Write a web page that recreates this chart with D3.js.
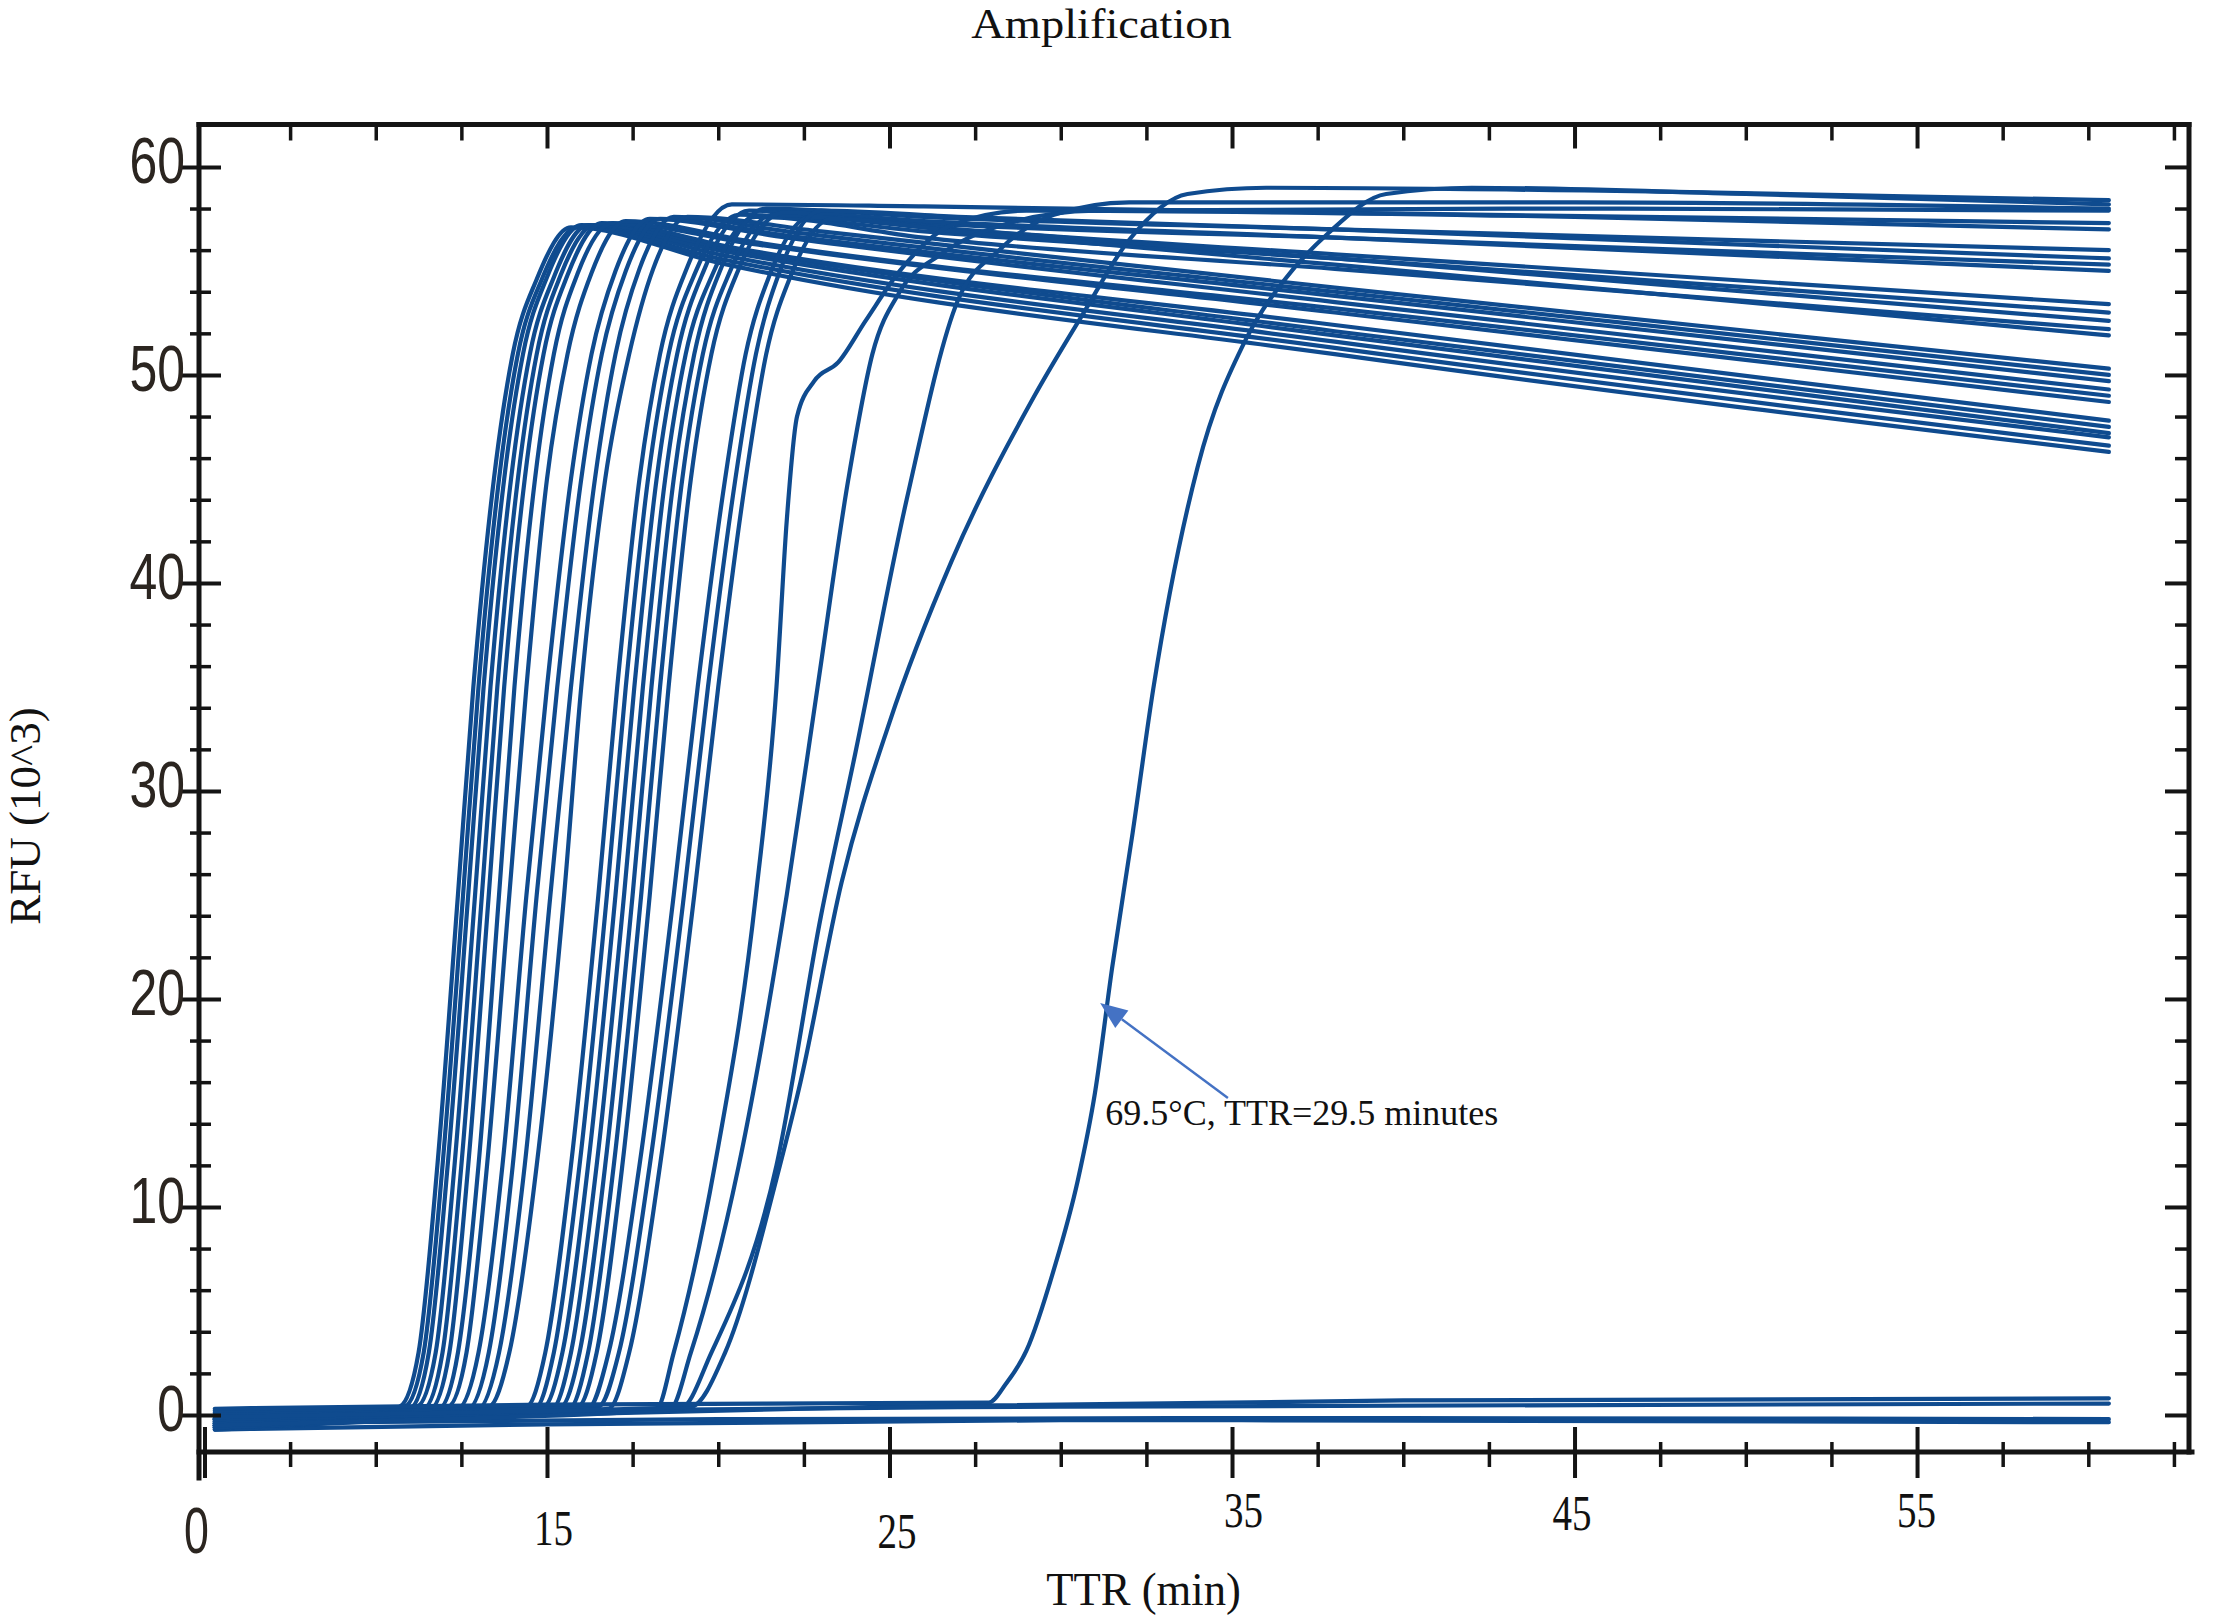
<!DOCTYPE html>
<html><head><meta charset="utf-8">
<script src="https://cdn.jsdelivr.net/npm/d3@7"></script>
<style>
html,body{margin:0;padding:0;background:#fff;}
svg{display:block;}
</style></head>
<body>
<svg id="chart" width="2217" height="1622"></svg>
<script>
// ---------------- data ----------------
const chartTitle = "Amplification";
const xAxisTitle = "TTR (min)";
const yAxisTitle = "RFU (10^3)";
const xTickValues = [5, 15, 25, 35, 45, 55];
const xTickLabels = ["0", "15", "25", "35", "45", "55"];
const xMinorTickValues = [7.5, 10, 12.5, 17.5, 20, 22.5, 27.5, 30, 32.5, 37.5, 40, 42.5, 47.5, 50, 52.5, 57.5, 60, 62.5];
const yTickValues = [0, 10, 20, 30, 40, 50, 60];
const yMinorTickValues = [2, 4, 6, 8, 12, 14, 16, 18, 22, 24, 26, 28, 32, 34, 36, 38, 42, 44, 46, 48, 52, 54, 56, 58];

// earliest amplification group  [TTR, RFU(10^3)]
const earlyCurves = [
  [[5.3,-0.6],[9,-0.2],[10.7,0.4],[11.25,3],[11.8,12],[12.4,25],[12.85,35],[13.45,45],[14.0,51],[14.7,54.6],[15.7,57.1],[20,55.4],[38,51.0],[60.6,46.3]],
  [[5.3,-0.4],[9,-0.1],[10.85,0.4],[11.4,3],[11.95,12],[12.55,25],[13.0,35],[13.6,45],[14.15,51],[14.85,54.6],[15.9,57.1],[20,55.6],[38,51.3],[60.6,46.6]],
  [[5.3,-0.7],[9,-0.3],[11.0,0.3],[11.55,3],[12.1,12],[12.7,25],[13.15,35],[13.75,45],[14.3,51],[15.0,54.7],[16.0,57.2],[20,55.8],[38,51.6],[60.6,47.0]],
  [[5.3,-0.2],[9,0],[11.2,0.4],[11.75,3],[12.3,12],[12.9,25],[13.35,35],[13.95,45],[14.5,51],[15.2,54.7],[16.2,57.2],[20,56.0],[38,51.9],[60.6,47.2]],
  [[5.3,-0.5],[9,-0.2],[11.4,0.3],[11.95,3],[12.5,12],[13.1,25],[13.55,35],[14.15,45],[14.7,51],[15.4,54.8],[16.4,57.2],[20.5,56.0],[38,52.1],[60.6,47.5]],
  [[5.3,-0.3],[9,-0.1],[11.6,0.3],[12.15,3],[12.7,12],[13.3,25],[13.75,35],[14.35,45],[14.9,51],[15.6,54.8],[16.6,57.3],[20.5,56.1],[38,52.4],[60.6,47.8]],
  [[5.3,-0.6],[9,-0.3],[11.85,0.3],[12.4,3],[13.0,12],[13.6,25],[14.05,35],[14.65,45],[15.2,51],[15.9,54.9],[16.9,57.3],[21,56.3],[38,53.0],[60.6,48.7]],
  [[5.3,0.1],[9,0.2],[12.1,0.4],[12.65,3],[13.25,12],[13.9,25],[14.4,35],[15.0,45],[15.6,51],[16.3,54.9],[17.3,57.4],[21,56.4],[38,53.2],[60.6,49.0]],
  [[5.3,-0.4],[9,-0.2],[12.4,0.3],[13.0,3],[13.7,12],[14.4,25],[15.0,35],[15.7,45],[16.3,51],[17.0,55.0],[18.0,57.5],[22,56.6],[38,53.5],[60.6,49.3]],
  [[5.3,-0.2],[9,0],[12.7,0.3],[13.3,3],[14.0,12],[14.7,25],[15.3,35],[16.0,45],[16.6,51],[17.3,55.0],[18.3,57.5],[22,56.7],[38,53.8],[60.6,49.7]],
  [[5.3,-0.5],[9,-0.2],[13.0,0.3],[13.6,3],[14.35,12],[15.1,25],[15.7,35],[16.4,45],[17.0,51],[17.7,55.1],[18.7,57.6],[22,56.9],[38,54.0],[60.6,50.0]],
  [[5.3,0.0],[9,0.1],[13.3,0.4],[13.9,3],[14.7,12],[15.5,25],[16.0,35],[16.7,45],[17.4,51],[18.1,55.1],[19.1,57.6],[23,56.9],[38,54.2],[60.6,50.3]]
];

// middle amplification group
const midCurves = [
  [[5.3,-0.3],[10,0],[14.4,0.4],[14.95,3],[15.7,12],[16.5,25],[17.05,35],[17.7,45],[18.3,51],[19.1,55.2],[20.4,58.2],[26,58.1],[38,57.8],[60.6,57.3]],
  [[5.3,-0.6],[10,-0.3],[14.65,0.3],[15.2,3],[15.95,12],[16.75,25],[17.3,35],[17.95,45],[18.55,51],[19.35,55.0],[20.6,57.7],[26,56.9],[38,55.6],[60.6,53.0]],
  [[5.3,-0.1],[10,0.1],[14.9,0.4],[15.45,3],[16.2,12],[17.0,25],[17.55,35],[18.2,45],[18.8,51],[19.6,55.1],[20.9,57.9],[26,57.3],[38,56.6],[60.6,55.3]],
  [[5.3,-0.5],[10,-0.2],[15.15,0.3],[15.7,3],[16.45,12],[17.25,25],[17.8,35],[18.45,45],[19.05,51],[19.85,54.9],[21.1,57.6],[26,56.6],[38,55.1],[60.6,52.2]],
  [[5.3,0.2],[10,0.2],[15.4,0.4],[15.95,3],[16.7,12],[17.5,25],[18.05,35],[18.7,45],[19.3,51],[20.1,55.2],[21.4,58.0],[26,57.6],[38,57.0],[60.6,56.0]],
  [[5.3,-0.4],[10,-0.2],[15.65,0.3],[16.2,3],[16.95,12],[17.75,25],[18.3,35],[18.95,45],[19.55,51],[20.35,55.0],[21.6,57.7],[26,57.1],[38,55.8],[60.6,53.4]],
  [[5.3,-0.2],[10,0],[15.9,0.4],[16.45,3],[17.2,12],[18.0,25],[18.55,35],[19.2,45],[19.8,51],[20.6,55.1],[21.9,57.8],[26,57.4],[38,56.6],[60.6,55.0]],
  [[5.3,-0.6],[10,-0.3],[16.2,0.3],[16.8,3],[17.7,12],[18.7,25],[19.4,35],[20.2,45],[20.8,51],[21.5,54.8],[22.7,57.6],[27,57.0],[38,55.6],[60.6,52.6]],
  [[5.3,0.0],[10,0.1],[16.5,0.4],[17.1,3],[18.0,12],[19.0,25],[19.7,35],[20.5,45],[21.1,51],[21.8,55.0],[23.0,57.9],[27,57.6],[38,57.0],[60.6,55.6]],
  [[5.3,-0.3],[10,-0.1],[16.8,0.3],[17.4,3],[18.3,12],[19.3,25],[20.0,35],[20.8,45],[21.4,51],[22.1,54.7],[23.3,57.5],[27,56.9],[38,55.3],[60.6,51.9]]
];

// slow / late amplification group
const lateCurves = [
  [[5.3,-0.4],[12,-0.1],[18.2,0.3],[18.7,3],[19.9,12],[21.1,25],[21.7,35],[22.0,43],[22.3,48],[22.8,49.7],[23.5,50.6],[24.3,52.6],[25.3,55.0],[26.8,57.2],[29,57.9],[45,57.6],[60.6,57.0]],
  [[5.3,-0.2],[12,0],[18.6,0.3],[19.2,3],[20.6,12],[22.0,25],[22.9,35],[23.8,45],[24.5,51],[25.3,54.0],[26.5,55.8],[28.5,57.3],[31,57.9],[45,58.0],[60.6,57.9]],
  [[5.3,-0.5],[12,-0.2],[18.9,0.3],[19.8,3],[21.7,12],[23.0,24],[24.0,31.8],[25.5,44.0],[27.0,53.6],[28.2,56.0],[29.8,57.7],[32,58.3],[45,58.3],[60.6,58.0]],
  [[5.3,-0.1],[12,0.1],[19.2,0.4],[20.2,3],[21.8,12],[22.4,16],[23.6,25.6],[25.0,33.3],[26.8,41],[29.2,48.9],[30.6,52.8],[32.0,56.5],[33.7,58.7],[36,59.0],[48,58.8],[60.6,58.4]]
];

// curve at 69.5 °C (annotated)
const annotatedCurve = [[5.3,0.3],[15,0.5],[27.9,0.6],[28.4,1.5],[29.0,3.1],[29.8,7],[30.5,11.3],[31.0,15.5],[31.5,21.5],[32.1,28],[32.7,34.9],[34.0,45.6],[35.4,51.7],[36.5,54.5],[37.8,56.8],[39.5,58.7],[42,59.0],[50,58.7],[60.6,58.2]];

// non-amplified (negative) curves
const negativeCurves = [
  [[5.3,-0.5],[12,-0.1],[25,0.4],[40,0.7],[60.6,0.8]],
  [[5.3,-0.2],[15,0.2],[30,0.4],[60.6,0.55]],
  [[5.3,-0.7],[15,-0.45],[30,-0.25],[60.6,-0.35]],
  [[5.3,-0.4],[20,-0.2],[40,-0.15],[60.6,-0.2]]
];

const annotationText = "69.5°C, TTR=29.5 minutes";
const annotationTextAt = [31.3, 13.95];
const annotationTip = [31.15, 19.8];
const annotationTail = [34.88, 15.24];

// ---------------- layout / style ----------------
const plot = {left: 199, right: 2189, top: 124.5, bottom: 1452};
const xLabelDx = [-8.5, 6, 7, 11, -3, -1];
const xLabelBaseline = [101, 93, 96, 75, 78, 75];
const serif = '"Liberation Serif","Times New Roman",Times,serif';
const sans = '"Liberation Sans",Arial,Helvetica,sans-serif';
const axisColor = "#141414";
const lineColor = "#0f4b8f";
const tickLabelColor = "#2b2520";

const svg = d3.select("#chart");
svg.append("rect").attr("width", 2217).attr("height", 1622).attr("fill", "#fff");

const x = d3.scaleLinear().domain([4.84, 62.94]).range([plot.left, plot.right]);
const y = d3.scaleLinear().domain([-1.78, 62.04]).range([plot.bottom, plot.top]);

// ---------------- curves ----------------
svg.append("clipPath").attr("id", "clip").append("rect")
  .attr("x", plot.left).attr("y", plot.top)
  .attr("width", plot.right - plot.left).attr("height", plot.bottom - plot.top);

const line = d3.line().x(d => x(d[0])).y(d => y(d[1])).curve(d3.curveMonotoneX);
const gLines = svg.append("g").attr("clip-path", "url(#clip)")
  .attr("fill", "none").attr("stroke", lineColor).attr("stroke-width", 4.2)
  .attr("stroke-linejoin", "round").attr("stroke-linecap", "round");

const allCurves = [].concat(negativeCurves, earlyCurves, midCurves, lateCurves, [annotatedCurve]);
gLines.selectAll("path").data(allCurves).join("path").attr("d", d => line(d));

// ---------------- axes ----------------
function styleTicks(g, a, b, w) {
  g.select(".domain").remove();
  g.selectAll(".tick line").attr("stroke", axisColor).attr("stroke-width", w);
  if (a !== null) g.selectAll(".tick line").each(function () {
    const l = d3.select(this);
    if (l.attr("x2") !== null && +l.attr("x2") !== 0) l.attr("x1", a).attr("x2", b);
    else l.attr("y1", a).attr("y2", b);
  });
}

// bottom major
const gxB = svg.append("g").attr("transform", `translate(0,${plot.bottom})`)
  .call(d3.axisBottom(x).tickValues(xTickValues).tickSize(26).tickFormat((d, i) => xTickLabels[i]));
styleTicks(gxB, -25, 26, 4);
gxB.selectAll(".tick text").each(function (d, i) {
  const t = d3.select(this);
  t.attr("dy", null).attr("y", null).attr("x", null);
  if (i === 0) {
    t.attr("transform", `translate(${xLabelDx[i]},${xLabelBaseline[i]}) scale(0.7,1)`)
     .attr("font-family", sans).attr("font-size", 64).attr("fill", tickLabelColor);
  } else {
    t.attr("transform", `translate(${xLabelDx[i]},${xLabelBaseline[i]}) scale(0.78,1)`)
     .attr("font-family", serif).attr("font-size", 50).attr("fill", "#111");
  }
});
// bottom minor
const gxBm = svg.append("g").attr("transform", `translate(0,${plot.bottom})`)
  .call(d3.axisBottom(x).tickValues(xMinorTickValues).tickSize(15).tickFormat(""));
styleTicks(gxBm, -10, 15, 3.5);

// top ticks (inward)
const gxT = svg.append("g").attr("transform", `translate(0,${plot.top})`)
  .call(d3.axisBottom(x).tickValues(xTickValues.slice(1)).tickSize(24).tickFormat(""));
styleTicks(gxT, null, null, 4);
const gxTm = svg.append("g").attr("transform", `translate(0,${plot.top})`)
  .call(d3.axisBottom(x).tickValues(xMinorTickValues).tickSize(16).tickFormat(""));
styleTicks(gxTm, null, null, 3.5);

// left major
const gyL = svg.append("g").attr("transform", `translate(${plot.left},0)`)
  .call(d3.axisLeft(y).tickValues(yTickValues).tickSize(17).tickFormat(d3.format("d")));
styleTicks(gyL, 22, -17, 4);
gyL.selectAll(".tick text")
  .attr("x", null).attr("dy", null).attr("y", null)
  .attr("transform", `translate(${185 - plot.left},16) scale(0.78,1)`)
  .attr("font-family", sans).attr("font-size", 64).attr("fill", tickLabelColor);
// left minor
const gyLm = svg.append("g").attr("transform", `translate(${plot.left},0)`)
  .call(d3.axisLeft(y).tickValues(yMinorTickValues).tickSize(9).tickFormat(""));
styleTicks(gyLm, 12, -9, 3.5);

// right ticks (inward)
const gyR = svg.append("g").attr("transform", `translate(${plot.right},0)`)
  .call(d3.axisLeft(y).tickValues(yTickValues).tickSize(24).tickFormat(""));
styleTicks(gyR, null, null, 4);
const gyRm = svg.append("g").attr("transform", `translate(${plot.right},0)`)
  .call(d3.axisLeft(y).tickValues(yMinorTickValues).tickSize(14).tickFormat(""));
styleTicks(gyRm, null, null, 3.5);

// frame
const frame = svg.append("g").attr("stroke", axisColor).attr("stroke-width", 5).attr("stroke-linecap", "square");
frame.append("line").attr("x1", plot.left).attr("x2", plot.right).attr("y1", plot.top).attr("y2", plot.top);
frame.append("line").attr("x1", plot.left).attr("x2", plot.left).attr("y1", plot.top).attr("y2", plot.bottom + 26);
frame.append("line").attr("x1", plot.left).attr("x2", plot.right + 3).attr("y1", plot.bottom).attr("y2", plot.bottom);
frame.append("line").attr("x1", plot.right).attr("x2", plot.right).attr("y1", plot.top).attr("y2", plot.bottom);

// ---------------- titles ----------------
svg.append("text").attr("transform", "translate(1101.5,38.3) scale(1.08,1)")
  .attr("text-anchor", "middle").attr("font-family", serif).attr("font-size", 43)
  .attr("fill", "#111").text(chartTitle);
svg.append("text").attr("transform", "translate(1143.5,1605) scale(0.95,1)")
  .attr("text-anchor", "middle").attr("font-family", serif).attr("font-size", 47)
  .attr("fill", "#111").text(xAxisTitle);
svg.append("text").attr("transform", "translate(40,816) rotate(-90)")
  .attr("text-anchor", "middle").attr("font-family", serif).attr("font-size", 45)
  .attr("fill", "#111").text(yAxisTitle);

// ---------------- annotation ----------------
const tip = [x(annotationTip[0]), y(annotationTip[1])];
const tail = [x(annotationTail[0]), y(annotationTail[1])];
const ang = Math.atan2(tip[1] - tail[1], tip[0] - tail[0]);
const headLen = 27, headHalf = 11;
const base = [tip[0] - headLen * Math.cos(ang), tip[1] - headLen * Math.sin(ang)];
const arrowColor = "#4472c4";
svg.append("line").attr("x1", tail[0]).attr("y1", tail[1]).attr("x2", base[0]).attr("y2", base[1])
  .attr("stroke", arrowColor).attr("stroke-width", 2.4);
svg.append("polygon").attr("fill", arrowColor).attr("points", [
  tip,
  [base[0] + headHalf * Math.sin(ang), base[1] - headHalf * Math.cos(ang)],
  [base[0] - headHalf * Math.sin(ang), base[1] + headHalf * Math.cos(ang)]
].map(p => p.join(",")).join(" "));
svg.append("text").attr("x", x(annotationTextAt[0])).attr("y", y(annotationTextAt[1]))
  .attr("font-family", serif).attr("font-size", 36).attr("fill", "#111").text(annotationText);
</script>
</body></html>
